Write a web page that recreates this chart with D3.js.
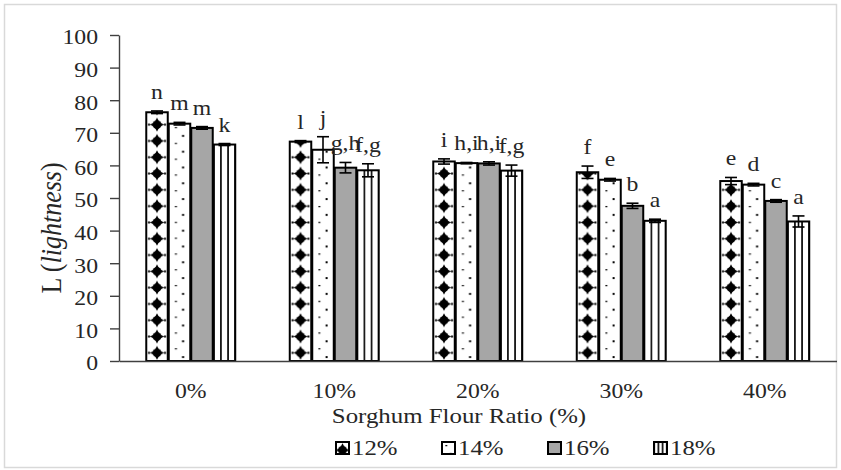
<!DOCTYPE html>
<html><head><meta charset="utf-8">
<script src="https://cdn.jsdelivr.net/npm/d3@7"></script>
<style>
body{margin:0;background:#fff}
svg{display:block}
text{font-family:"Liberation Serif","Times New Roman",serif;fill:#262626}
</style>
</head><body>
<svg id="c" width="841" height="470"></svg>
<script>
// ---- data ----
const categories = ["0%", "10%", "20%", "30%", "40%"];
const series = ["12%", "14%", "16%", "18%"];
const values12 = [76.3, 67.3, 61.2, 57.9, 55.2];
const values14 = [72.8, 64.8, 60.7, 55.6, 54.1];
const values16 = [71.5, 59.3, 60.6, 47.6, 49.1];
const values18 = [66.4, 58.5, 58.4, 43.0, 42.8];
const err12 = [0.4, 0.3, 0.8, 1.9, 1.1];
const err14 = [0.4, 4.0, 0.2, 0.4, 0.4];
const err16 = [0.4, 1.6, 0.5, 0.8, 0.4];
const err18 = [0.3, 2.0, 1.7, 0.5, 1.7];
const letters12 = ["n", "l", "i", "f", "e"];
const letters14 = ["m", "j", "h,i", "e", "d"];
const letters16 = ["m", "g,h", "h,i", "b", "c"];
const letters18 = ["k", "f,g", "f,g", "a", "a"];
const yTicks = [0, 10, 20, 30, 40, 50, 60, 70, 80, 90, 100];
const xTitle = "Sorghum Flour Ratio (%)";

const allValues = [values12, values14, values16, values18];
const allErr = [err12, err14, err16, err18];
const allLetters = [letters12, letters14, letters16, letters18];

// ---- layout ----
const SX = 1.13; // horizontal text stretch of the original picture
const plot = {left: 119, right: 836.5, top: 35, bottom: 361};
const svg = d3.select("#c");
const defs = svg.append("defs");

svg.append("rect").attr("x", 4.5).attr("y", 4.5).attr("width", 832).attr("height", 463)
  .attr("fill", "#fff").attr("stroke", "#d9d9d9").attr("stroke-width", 1.5);

const x = d3.scaleBand().domain(categories).range([plot.left, plot.right])
  .paddingInner(0.373).paddingOuter(0.1865);
const xs = d3.scaleBand().domain(series).range([0, x.bandwidth()]);
const y = d3.scaleLinear().domain([0, 100]).range([plot.bottom, plot.top]);

const GRAY = "#a6a6a6";

function starPath(cx, cy, ro, ri) {
  const pts = [];
  for (let k = 0; k < 8; k++) {
    const a = k * Math.PI / 4 - Math.PI / 2;
    const r = k % 2 === 0 ? ro : ri;
    pts.push([cx + r * Math.cos(a), cy + r * Math.sin(a)]);
  }
  return "M" + pts.map(p => p.join(",")).join("L") + "Z";
}

function addPattern(id, si, ox, oy, w) {
  const p = defs.append("pattern").attr("id", id).attr("patternUnits", "userSpaceOnUse");
  if (si === 0) {
    const th = 16.3;
    p.attr("x", ox).attr("y", oy).attr("width", w).attr("height", th);
    p.append("rect").attr("width", w).attr("height", th).attr("fill", "#fff");
    p.append("path").attr("d", starPath(w / 2, th / 2, 7, 3.4)).attr("fill", "#000");
    p.append("circle").attr("cx", w / 2).attr("cy", th / 2).attr("r", 4.4).attr("fill", "#000");
    p.append("rect").attr("x", w / 2 - 9).attr("y", th / 2 - 1).attr("width", 2).attr("height", 2).attr("fill", "#000");
    p.append("rect").attr("x", w / 2 + 7).attr("y", th / 2 - 1).attr("width", 2).attr("height", 2).attr("fill", "#000");
  } else if (si === 1) {
    const th = 15.8;
    p.attr("x", ox).attr("y", oy).attr("width", w).attr("height", th);
    p.append("rect").attr("width", w).attr("height", th).attr("fill", "#fff");
    p.append("rect").attr("x", w / 3 - 1).attr("y", 3).attr("width", 2).attr("height", 1.2).attr("fill", "#000");
    p.append("rect").attr("x", 2 * w / 3 - 1).attr("y", 3 + th / 2).attr("width", 2).attr("height", 2).attr("fill", "#000");
  } else if (si === 2) {
    p.attr("x", 0).attr("y", 0).attr("width", 10).attr("height", 10);
    p.append("rect").attr("width", 10).attr("height", 10).attr("fill", GRAY);
  } else {
    const tw = w / 3;
    p.attr("x", ox - tw / 2).attr("y", 0).attr("width", tw).attr("height", 10);
    p.append("rect").attr("width", tw).attr("height", 10).attr("fill", "#fff");
    p.append("rect").attr("x", tw / 2 - 0.8).attr("width", 1.6).attr("height", 10).attr("fill", "#000");
  }
}

// ---- bars ----
const barData = [];
categories.forEach((c, ci) => {
  series.forEach((s, si) => {
    barData.push({c, ci, s, si, v: allValues[si][ci], e: allErr[si][ci], t: allLetters[si][ci]});
  });
});

const bw = xs.bandwidth() - 1;
barData.forEach(d => {
  d.x0 = x(d.c) + xs(d.s) + 0.5;
  d.cx = d.x0 + bw / 2;
  addPattern(`p${d.si}_${d.ci}`, d.si, d.x0, y(0), bw);
});

const bars = svg.append("g");
bars.selectAll("rect").data(barData).join("rect")
  .attr("x", d => d.x0).attr("width", bw)
  .attr("y", d => y(d.v)).attr("height", d => y(0) - y(d.v))
  .attr("fill", d => `url(#p${d.si}_${d.ci})`)
  .attr("stroke", "#000").attr("stroke-width", 2);

// ---- error bars ----
const eb = svg.append("g").attr("stroke", "#000").attr("stroke-width", 1.6);
const capW = 12;
barData.forEach(d => {
  eb.append("line").attr("x1", d.cx).attr("x2", d.cx).attr("y1", y(d.v - d.e)).attr("y2", y(d.v + d.e));
  [d.v - d.e, d.v + d.e].forEach(v => {
    eb.append("line").attr("x1", d.cx - capW / 2).attr("x2", d.cx + capW / 2).attr("y1", y(v)).attr("y2", y(v));
  });
});

// ---- letters ----
svg.append("g").selectAll("text").data(barData).join("text")
  .attr("transform", d => `translate(${d.cx},${y(d.v + d.e) - 12}) scale(${SX},1)`)
  .attr("text-anchor", "middle").attr("font-size", 21)
  .text(d => d.t);

// ---- axes ----
const AX = "#404040";
const yAxis = svg.append("g").attr("transform", `translate(${plot.left},0)`)
  .call(d3.axisLeft(y).tickValues(yTicks).tickSize(9).tickSizeOuter(0));
yAxis.select(".domain").attr("stroke", AX).attr("stroke-width", 1.4);
yAxis.selectAll(".tick line").attr("stroke", AX).attr("stroke-width", 1.4);
yAxis.selectAll(".tick text").attr("x", 0).attr("dy", "0.42em")
  .attr("transform", `translate(-21,0) scale(${SX},1)`)
  .attr("font-size", 21).attr("font-family", "Liberation Serif").attr("fill", "#262626");

const xAxis = svg.append("g").attr("transform", `translate(0,${plot.bottom})`)
  .call(d3.axisBottom(x).tickSize(0).tickSizeOuter(0));
xAxis.select(".domain").attr("stroke", AX).attr("stroke-width", 1.4);
xAxis.selectAll(".tick text").attr("y", 0).attr("dy", 0)
  .attr("transform", `translate(0,37) scale(${SX},1)`)
  .attr("font-size", 21).attr("font-family", "Liberation Serif").attr("fill", "#262626");

// ---- titles ----
svg.append("text").attr("text-anchor", "middle")
  .attr("transform", `translate(459,423) scale(${SX},1)`)
  .attr("font-size", 22).text(xTitle);

const yl = svg.append("text").attr("text-anchor", "middle")
  .attr("transform", `translate(61,228) scale(${SX},1) rotate(-90)`)
  .attr("font-size", 26);
yl.append("tspan").text("L (");
yl.append("tspan").attr("font-style", "italic").text("lightness");
yl.append("tspan").text(")");

// ---- legend ----
const legX0 = 336, legStep = 106, legY = 442;
const leg = svg.append("g");
series.forEach((s, si) => {
  const lx = legX0 + si * legStep;
  addPattern(`lg${si}`, si, lx, legY, 13);
  leg.append("rect").attr("x", lx).attr("y", legY).attr("width", 13).attr("height", 12)
    .attr("fill", `url(#lg${si})`).attr("stroke", "#000").attr("stroke-width", 2);
  leg.append("text").attr("transform", `translate(${lx + 16},455) scale(${SX},1)`)
    .attr("font-size", 22).text(s);
});
</script>
</body></html>
